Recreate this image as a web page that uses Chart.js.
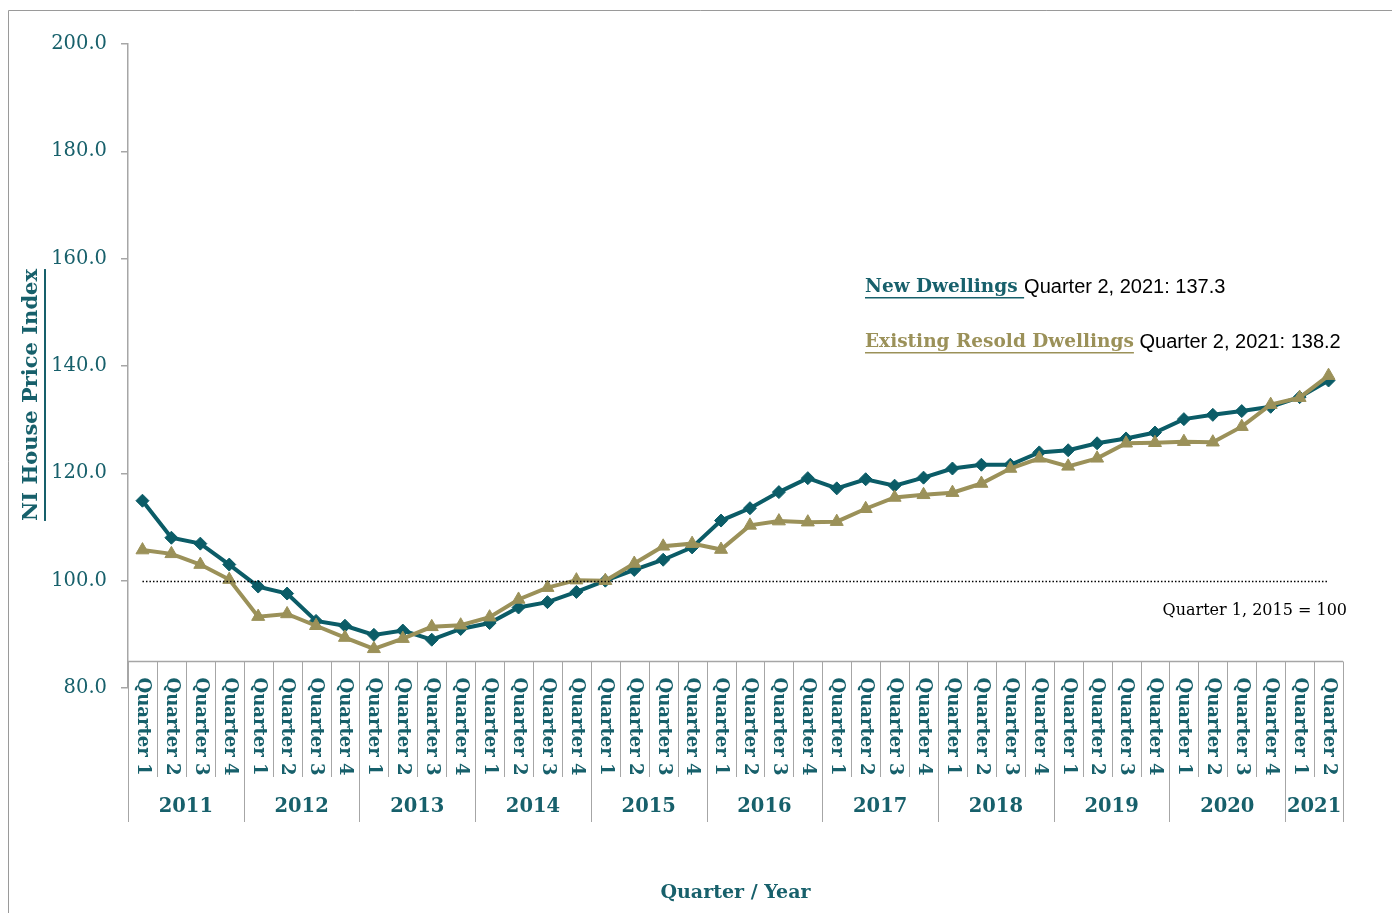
<!DOCTYPE html>
<html lang="en">
<head>
    <meta charset="UTF-8">
    <title>NI House Price Index</title>
    <script src="https://cdn.jsdelivr.net/npm/chart.js"></script>
    <style>
        body { margin: 0; background: #fff; }
        #wrap { width: 1392px; height: 913px; position: relative; }
    </style>
</head>
<body>
    <div id="wrap"><canvas id="hpiChart"></canvas></div>

    <script>
        // quarters from 2011 Q1 to 2021 Q2
        const years = ['2011', '2012', '2013', '2014', '2015', '2016', '2017', '2018', '2019', '2020', '2021'];
        const quarters = ['Quarter 1', 'Quarter 2', 'Quarter 3', 'Quarter 4'];
        const quartersPerYear = [4, 4, 4, 4, 4, 4, 4, 4, 4, 4, 2];

        const newDwellings = [
            114.9, 108.0, 106.9, 103.0,
            98.9, 97.6, 92.5, 91.6,
            89.9, 90.7, 89.0, 91.0,
            92.1, 95.0, 96.0, 97.9,
            100.0, 102.0, 103.9, 106.2,
            111.2, 113.5, 116.5, 119.1,
            117.2, 118.9, 117.7, 119.2,
            120.9, 121.6, 121.6, 123.9,
            124.3, 125.6, 126.5, 127.6,
            130.1, 130.9, 131.6, 132.4,
            134.2, 137.3
        ];
        const existingResold = [
            105.7, 105.0, 103.0, 100.2,
            93.3, 93.8, 91.6, 89.4,
            87.3, 89.2, 91.4, 91.7,
            93.2, 96.5, 98.7, 100.1,
            100.0, 103.2, 106.4, 106.9,
            105.8, 110.3, 111.1, 110.9,
            111.0, 113.4, 115.5, 116.0,
            116.4, 118.1, 120.9, 122.8,
            121.3, 122.8, 125.6, 125.7,
            125.9, 125.8, 128.7, 132.8,
            134.1, 138.2
        ];

        const yTicks = [80, 100, 120, 140, 160, 180, 200];
        const baseValue = 100;      // Quarter 1, 2015 = 100
        const xAxisCrossesAt = 85;  // category axis sits a bit above the 80 tick

        const labels = [];
        years.forEach((y, i) => {
            for (let q = 0; q < quartersPerYear[i]; q++) labels.push(quarters[q] + ' ' + y);
        });

        const teal = '#0B5C67';
        const tealText = '#17606B';
        const gold = '#9B9159';
        const serif = '"DejaVu Serif", serif';

        const decorations = {
            id: 'decorations',
            afterDatasetsDraw(chart) {
                const ctx = chart.ctx;
                const x = chart.scales.x;
                const y = chart.scales.y;
                const area = chart.chartArea;
                const n = labels.length;
                const step = (area.right - area.left) / n;
                const axisY = Math.round(y.getPixelForValue(xAxisCrossesAt)) + 0.5;
                const qBottom = 777;
                const yBottom = 822;

                ctx.save();
                // outer frame
                ctx.strokeStyle = '#9a9a9a';
                ctx.lineWidth = 1;
                ctx.beginPath();
                ctx.moveTo(8.5, 913);
                ctx.lineTo(8.5, 10.5);
                ctx.lineTo(1392, 10.5);
                ctx.stroke();

                // base line at 100
                const by = Math.round(y.getPixelForValue(baseValue)) + 0.5;
                ctx.strokeStyle = '#000';
                ctx.setLineDash([1.5, 2]);
                ctx.lineWidth = 1.5;
                ctx.beginPath();
                ctx.moveTo(x.getPixelForValue(0), by);
                ctx.lineTo(x.getPixelForValue(n - 1), by);
                ctx.stroke();
                ctx.setLineDash([]);

                // category axis
                ctx.strokeStyle = '#a6a6a6';
                ctx.lineWidth = 1.5;
                ctx.beginPath();
                ctx.moveTo(area.left, axisY);
                ctx.lineTo(area.right, axisY);
                ctx.stroke();

                let idx = 0;
                const yearStarts = [];
                years.forEach((yr, i) => { yearStarts.push(idx); idx += quartersPerYear[i]; });
                yearStarts.push(n);

                ctx.lineWidth = 1;
                for (let i = 0; i <= n; i++) {
                    const px = Math.round(area.left + i * step) + 0.5;
                    const isYear = yearStarts.includes(i);
                    ctx.beginPath();
                    ctx.moveTo(px, axisY);
                    ctx.lineTo(px, isYear ? yBottom : qBottom);
                    ctx.stroke();
                }

                // quarter labels, reading downwards
                ctx.fillStyle = tealText;
                ctx.font = 'bold 18px ' + serif;
                ctx.textAlign = 'left';
                ctx.textBaseline = 'middle';
                for (let i = 0; i < n; i++) {
                    const q = labels[i].split(' ').slice(0, 2).join(' ');
                    ctx.save();
                    ctx.translate(x.getPixelForValue(i), axisY + 16);
                    ctx.rotate(Math.PI / 2);
                    ctx.fillText(q, 0, 0);
                    ctx.restore();
                }

                // year labels
                ctx.font = 'bold 19.5px ' + serif;
                ctx.textAlign = 'center';
                years.forEach((yr, i) => {
                    const cx = area.left + (yearStarts[i] + yearStarts[i + 1]) / 2 * step;
                    ctx.fillText(yr, cx, 807);
                });

                // axis titles
                ctx.font = 'bold 19px ' + serif;
                ctx.fillText('Quarter / Year', (area.left + area.right) / 2, 893);

                ctx.save();
                ctx.translate(32, 395);
                ctx.rotate(-Math.PI / 2);
                ctx.font = 'bold 21px ' + serif;
                ctx.fillText('NI House Price Index', 0, 0);
                const tw = ctx.measureText('NI House Price Index').width;
                ctx.fillRect(-tw / 2, 12, tw, 2);
                ctx.restore();

                // series notes
                const notes = [
                    { name: 'New Dwellings ', color: tealText, text: 'Quarter 2, 2021: ' + newDwellings[n - 1].toFixed(1), y: 287 },
                    { name: 'Existing Resold Dwellings', color: gold, text: ' Quarter 2, 2021: ' + existingResold[n - 1].toFixed(1), y: 342 }
                ];
                ctx.textAlign = 'left';
                notes.forEach(nt => {
                    ctx.font = 'bold 18.5px ' + serif;
                    ctx.fillStyle = nt.color;
                    ctx.fillText(nt.name, 865, nt.y);
                    const w = ctx.measureText(nt.name).width;
                    ctx.fillRect(865, nt.y + 10, w, 1.5);
                    ctx.font = '20px "Liberation Sans", sans-serif';
                    ctx.fillStyle = '#000';
                    ctx.fillText(nt.text, 865 + w, nt.y);
                });

                ctx.font = '16px ' + serif;
                ctx.fillStyle = '#000';
                ctx.textAlign = 'right';
                ctx.fillText('Quarter 1, 2015 = 100', 1347, 611);
                ctx.restore();
            }
        };

        new Chart(document.getElementById('hpiChart'), {
            type: 'line',
            data: {
                labels: labels,
                datasets: [{
                    label: 'New Dwellings',
                    data: newDwellings,
                    borderColor: teal,
                    backgroundColor: teal,
                    borderWidth: 4,
                    pointStyle: 'rectRot',
                    pointRadius: 6.5,
                    pointBorderWidth: 1,
                    tension: 0,
                    order: 2
                }, {
                    label: 'Existing Resold Dwellings',
                    data: existingResold,
                    borderColor: gold,
                    backgroundColor: gold,
                    borderWidth: 4,
                    pointStyle: 'triangle',
                    pointRadius: 7.5,
                    pointBorderWidth: 1,
                    tension: 0,
                    order: 1
                }]
            },
            options: {
                responsive: true,
                maintainAspectRatio: false,
                animation: false,
                layout: { padding: { top: 44, right: 49, bottom: 225, left: 0 } },
                plugins: { legend: { display: false }, tooltip: { enabled: false } },
                scales: {
                    x: { display: false, offset: true },
                    y: {
                        min: 80,
                        max: 200,
                        afterFit(scale) { scale.width = 128; },
                        afterBuildTicks(scale) { scale.ticks = yTicks.map(v => ({ value: v })); },
                        border: { color: '#a6a6a6', width: 1.5 },
                        grid: { drawOnChartArea: false, tickLength: 7, color: '#a6a6a6', lineWidth: 1.5 },
                        ticks: {
                            padding: 14,
                            color: tealText,
                            font: { family: serif, size: 19.5 },
                            callback: v => v.toFixed(1)
                        }
                    }
                }
            },
            plugins: [decorations]
        });
    </script>
</body>
</html>
